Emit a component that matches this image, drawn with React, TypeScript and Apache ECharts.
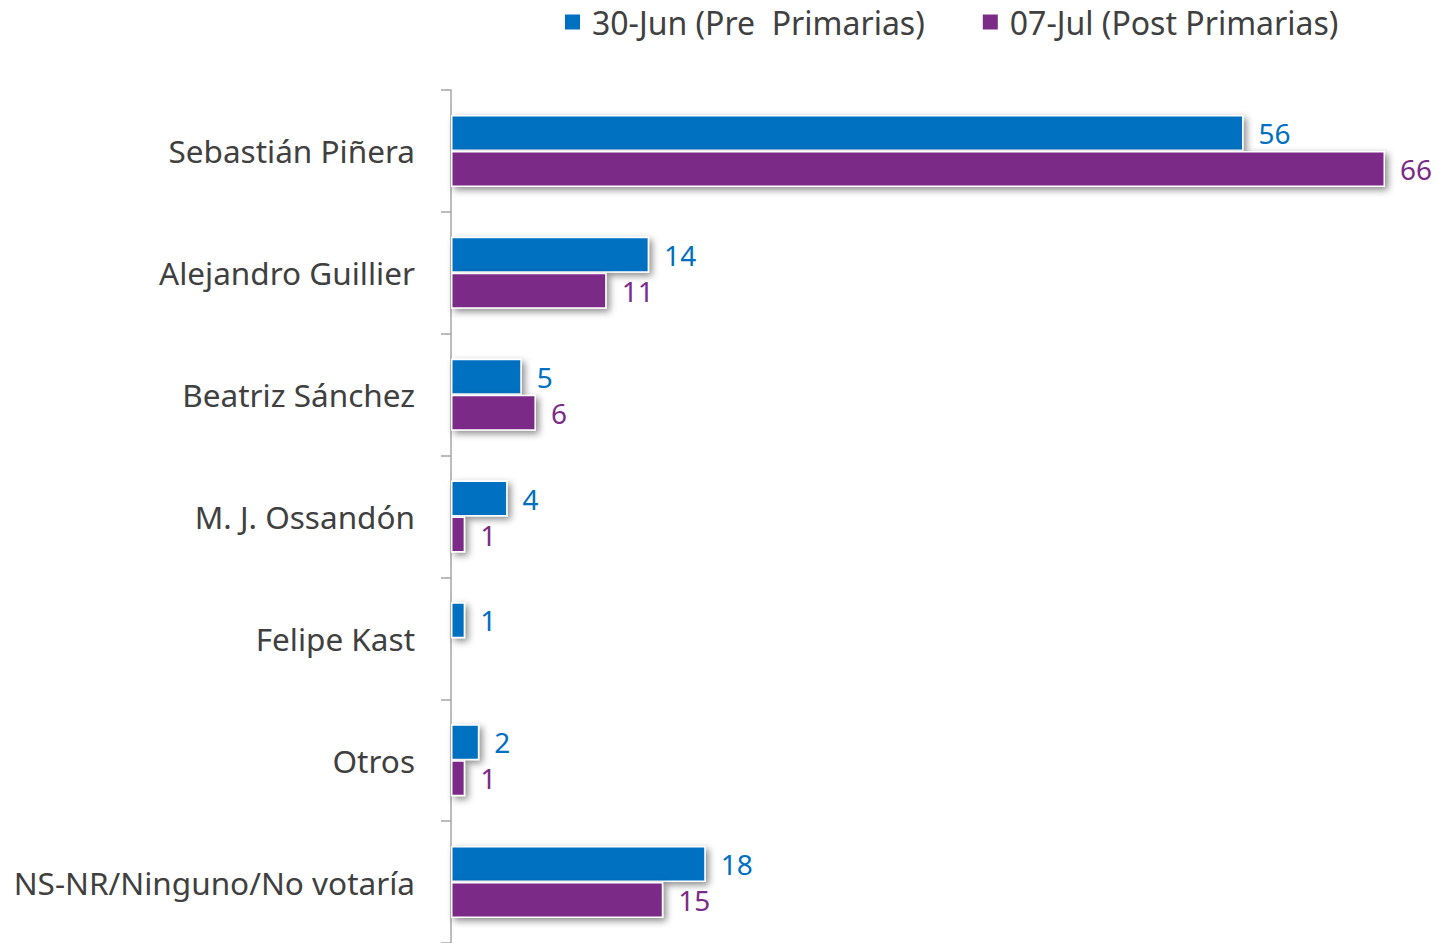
import React, { useEffect, useRef } from "react";
import * as echarts from "echarts";

const categories = [
  "Sebastián Piñera",
  "Alejandro Guillier",
  "Beatriz Sánchez",
  "M. J. Ossandón",
  "Felipe Kast",
  "Otros",
  "NS-NR/Ninguno/No votaría",
];
const seriesNames = ["30-Jun (Pre  Primarias)", "07-Jul (Post Primarias)"];
const preValues: (number | null)[] = [56, 14, 5, 4, 1, 2, 18];
const postValues: (number | null)[] = [66, 11, 6, 1, null, 1, 15];
const colors = ["#0070C0", "#7B2C87"];

export default function App() {
  const ref = useRef<HTMLDivElement>(null);
  useEffect(() => {
    if (!ref.current) return;
    const chart = echarts.init(ref.current, null, { renderer: "svg" });
    const font = "'Noto Sans', 'Open Sans', sans-serif";
    const mkSeries = (name: string, data: (number | null)[], color: string) => ({
      name,
      type: "bar",
      data,
      barGap: "0%",
      barWidth: 36,
      itemStyle: {
        color,
        borderColor: "#ffffff",
        borderWidth: 1.5,
        shadowColor: "rgba(0,0,0,0.45)",
        shadowBlur: 7,
        shadowOffsetX: 3,
        shadowOffsetY: 3,
      },
      label: {
        show: true,
        position: "right",
        distance: 15,
        color,
        fontSize: 28,
        fontFamily: font,
      },
    });
    chart.setOption({
      animation: false,
      backgroundColor: "#ffffff",
      legend: {
        top: 1,
        left: 558,
        itemWidth: 17,
        itemHeight: 17,
        itemGap: 56,
        icon: "rect",
        textStyle: { fontSize: 32, color: "#404040", fontFamily: font, padding: [0, 0, 0, 6] },
        data: seriesNames,
      },
      grid: { left: 451, top: 90, width: 934, height: 858 },
      xAxis: {
        type: "value",
        min: 0,
        max: 66,
        show: false,
      },
      yAxis: {
        type: "category",
        inverse: true,
        data: categories,
        axisLine: { show: true, lineStyle: { color: "#A6A6A6", width: 1.5 } },
        axisTick: { show: true, length: 10, lineStyle: { color: "#A6A6A6", width: 1.5 } },
        axisLabel: { margin: 36, fontSize: 31.5, color: "#404040", fontFamily: font },
      },
      series: [
        mkSeries(seriesNames[0], preValues, colors[0]),
        mkSeries(seriesNames[1], postValues, colors[1]),
      ],
    });
    return () => chart.dispose();
  }, []);
  return (
    <div
      ref={ref}
      style={{ position: "fixed", left: 0, top: 0, width: 1437, height: 943, background: "#fff" }}
    />
  );
}
